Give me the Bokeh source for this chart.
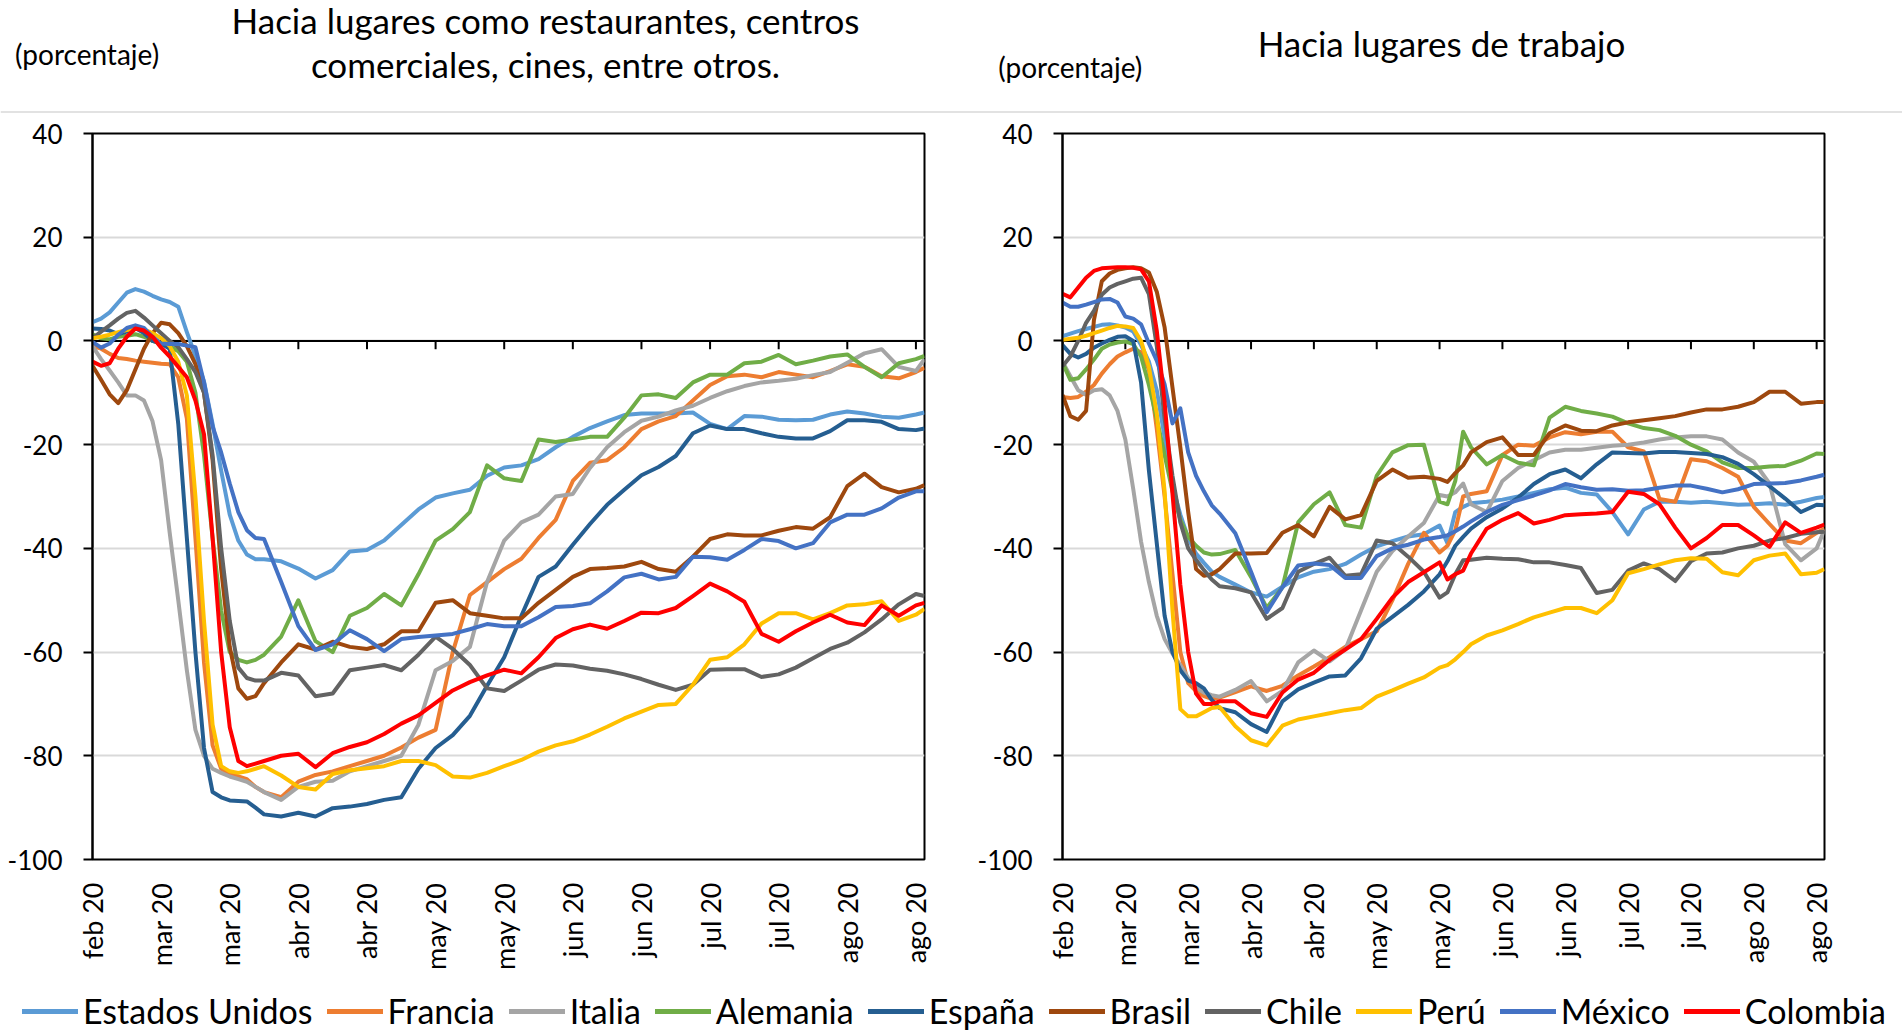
import math
from bokeh.plotting import figure
from bokeh.layouts import column, row
from bokeh.models import Range1d, FixedTicker, Span, Legend, LegendItem
from bokeh.core.properties import value
from bokeh.embed import file_html
from bokeh.resources import INLINE

# ---------------- data ----------------
COUNTRIES = ["Estados Unidos", "Francia", "Italia", "Alemania", "España",
             "Brasil", "Chile", "Perú", "México", "Colombia"]
COLORS = ["#5B9BD5", "#ED7D31", "#A5A5A5", "#70AD47", "#255E91",
          "#9E480E", "#636363", "#FFC000", "#4472C4", "#FF0000"]

TICK_DAYS = [0, 16, 32, 48, 64, 80, 96, 112, 128, 144, 160, 176, 192]
TICK_LABELS = ["feb 20", "mar 20", "mar 20", "abr 20", "abr 20", "may 20", "may 20",
               "jun 20", "jun 20", "jul 20", "jul 20", "ago 20", "ago 20"]
Y_TICKS = [-100, -80, -60, -40, -20, 0, 20, 40]
Y_TICK_LABELS = ["-100", "-80", "-60", "-40", "-20", "0", "20", "40"]

TITLE_LEFT = ["Hacia lugares como restaurantes, centros", "comerciales, cines, entre otros."]
TITLE_RIGHT = "Hacia lugares de trabajo"
UNIT = "(porcentaje)"

# days since 15 feb 2020
DAYS_LEFT = [0, 2, 4, 6, 8, 10, 12, 14, 16, 18, 20, 22, 24, 26, 28, 30, 32, 34, 36, 38, 40,
             44, 48, 52, 56, 60, 64, 68, 72, 76, 80, 84, 88, 92, 96,
             100, 104, 108, 112, 116, 120, 124, 128, 132, 136, 140, 144, 148, 152, 156, 160,
             164, 168, 172, 176, 180, 184, 188, 192, 194]
DAYS_RIGHT = [0, 2, 4, 6, 8, 10, 12, 14, 16, 18, 20, 22, 24, 26, 28, 30, 32, 34, 36, 38, 40,
              44, 48, 52, 56, 60, 64, 68, 72, 76, 80, 84, 88, 92, 96,
              98, 100, 102, 104,
              108, 112, 116, 120, 124, 128, 132, 136, 140, 144, 148, 152, 156, 160,
              164, 168, 172, 176, 180, 184, 188, 192, 194]

# Retail & recreation
RETAIL_US = [3.6, 4.3, 5.5, 7.4, 9.3, 10, 9.5, 8.7, 8, 7.5, 6.6, 1.7, -2.9, -7.8, -16, -25, -33.5, -38.5, -41.2, -42.1, -42.1,
             -42.5, -43.9, -45.8, -44.2, -40.6, -40.3, -38.5, -35.5, -32.5, -30.2, -29.4, -28.7, -26, -24.4,
             -24, -22.8, -20.5, -18.5, -16.8, -15.5, -14.3, -14, -14, -14, -13.8, -16, -17, -14.5, -14.6, -15.2,
             -15.3, -15.2, -14.2, -13.6, -14, -14.6, -14.8, -14.2, -13.8]
RETAIL_FR = [-1, -1.5, -2.5, -3.3, -3.5, -3.8, -4, -4.2, -4.4, -4.5, -7, -15, -38, -62, -78, -82.5, -83.5, -84, -84.5, -86, -87,
             -88, -85, -83.7, -83, -82, -81, -80, -78.4, -76.5, -75, -60, -49, -46.5, -44,
             -42, -38, -34.5, -27, -23.5, -23, -20.5, -17, -15.5, -14.5, -11.5, -8.5, -6.8, -6.5, -7, -6,
             -6.5, -7, -5.8, -4.5, -5, -6.8, -7.2, -6, -5.2]
RETAIL_IT = [-1, -3.5, -5.7, -8, -10.5, -10.5, -11.5, -15.5, -23, -37, -50, -63.5, -75, -80, -82.5, -83.3, -84, -84.5, -85, -86, -87,
             -88.5, -86, -85, -84.8, -83, -82, -81, -80, -74, -63.5, -61.7, -59, -46.5, -38.5,
             -35, -33.5, -30, -29.5, -24.5, -20.5, -17.6, -15.4, -14.6, -13.4, -12.5, -11, -9.7, -8.7, -8, -7.7,
             -7.3, -6.6, -6, -4.2, -2.4, -1.6, -5, -5.8, -3.5]
RETAIL_DE = [1.3, 0.5, 0.3, 0.8, 1, 1.3, 0.8, 0, -0.5, -1, -2, -4, -10, -22, -38, -52, -60, -61.5, -62, -61.5, -60.5,
             -57, -50, -57.9, -60, -53, -51.5, -48.8, -51, -45, -38.5, -36.3, -33, -24, -26.5,
             -27, -19, -19.5, -19, -18.5, -18.5, -14.8, -10.5, -10.3, -11, -8, -6.5, -6.5, -4.3, -4, -2.7,
             -4.5, -3.8, -3, -2.6, -5, -7, -4.3, -3.5, -2.9]
RETAIL_ES = [2.4, 2.3, 2, 1.3, 1.8, 2.5, 1.5, 0, -0.5, -1.5, -16, -38, -60, -78.5, -87, -88, -88.6, -88.7, -88.8, -90, -91.3,
             -91.7, -91, -91.7, -90.1, -89.8, -89.3, -88.5, -88, -82.5, -78.5, -76, -72.3, -66.5, -61,
             -53, -45.5, -43.5, -39.3, -35.3, -31.6, -28.7, -25.9, -24.3, -22.2, -17.8, -16.3, -17, -17, -17.8, -18.5,
             -18.8, -18.8, -17.4, -15.3, -15.3, -15.6, -17, -17.2, -16.9]
RETAIL_BR = [-4.8, -7.5, -10.3, -12, -9.5, -5.5, -1.5, 1.5, 3.5, 3.2, 1.5, -1, -4.5, -10, -23, -44, -59, -67, -69, -68.5, -66,
             -62, -58.5, -59.5, -58, -59, -59.4, -58.5, -56, -56, -50.5, -50, -52.5, -53, -53.5,
             -53.5, -50.5, -48, -45.5, -44, -43.8, -43.5, -42.6, -44, -44.5, -41.6, -38.2, -37.3, -37.5, -37.5, -36.6,
             -35.9, -36.2, -34, -28, -25.6, -28.2, -29.2, -28.5, -27.8]
RETAIL_CL = [0.5, 1.8, 3, 4.3, 5.4, 5.8, 4.5, 3, 1.5, 0, -1.2, -3.5, -6, -10, -22, -40, -54, -63, -65, -65.5, -65.5,
             -64, -64.5, -68.5, -68, -63.5, -63, -62.5, -63.5, -60.5, -57, -59.4, -62.5, -67, -67.5,
             -65.5, -63.4, -62.4, -62.6, -63.2, -63.6, -64.3, -65.2, -66.3, -67.3, -66.3, -63.4, -63.3, -63.3, -64.8, -64.3,
             -63, -61.2, -59.4, -58.2, -56.2, -53.7, -50.8, -48.8, -49.2]
RETAIL_PE = [0.5, 0.8, 1.2, 1.7, 2.1, 2.4, 2.2, 1.5, 0.5, -1, -4, -10.5, -30, -54, -74, -82, -83, -83.3, -83, -82.5, -82,
             -83.8, -86, -86.5, -83.5, -82.8, -82.4, -82, -81, -81, -81.8, -84, -84.2, -83.3, -82,
             -80.8, -79.2, -78, -77.2, -75.9, -74.4, -72.8, -71.5, -70.2, -70, -66.3, -61.5, -61, -58.5, -54.5, -52.5,
             -52.5, -53.7, -52.5, -51, -50.8, -50.2, -54, -52.8, -51.7]
RETAIL_MX = [-0.2, -1.3, -0.5, 1.2, 2.5, 3, 2.5, 0.8, -0.5, -0.6, -0.6, -0.9, -1.2, -8, -16.5, -21.5, -27.5, -33, -36.5, -38, -38.2,
             -46.5, -55, -59.6, -58.5, -55.8, -57.5, -59.8, -57.5, -57.1, -56.8, -56.5, -55.6, -54.6, -55,
             -55, -53.3, -51.3, -51.1, -50.6, -48.3, -45.6, -44.9, -46, -45.5, -41.6, -41.7, -42.2, -40.3, -38.2, -38.6,
             -40, -39, -35, -33.5, -33.5, -32.3, -30.2, -29, -29]
RETAIL_CO = [-4, -4.8, -4.3, -1.5, 0.8, 2.4, 2, 0.8, -1.3, -3, -5, -7, -11.5, -18, -38, -60, -74.5, -81, -82, -81.5, -81,
             -80, -79.6, -82.2, -79.5, -78.3, -77.4, -75.8, -73.8, -72.2, -69.8, -67.4, -65.8, -64.5, -63.4,
             -64.1, -61, -57.3, -55.6, -54.7, -55.5, -54, -52.4, -52.5, -51.5, -49.2, -46.8, -48.3, -50.3, -56.5, -58,
             -56, -54.3, -52.8, -54.3, -54.8, -51, -53, -51, -50.5]

# Workplaces
WORK_US = [0.9, 1.4, 1.9, 2.3, 2.7, 3.1, 3.2, 3, 2.6, 1.8, -0.8, -4, -9.5, -18.6, -28, -33.5, -38, -41, -42.8, -44.5, -45.5,
           -47, -48.5, -49.3, -47.4, -45.6, -44.5, -44, -43, -41.2, -39.6, -38.6, -37.7, -37.3, -35.6,
           -39, -33, -32, -31.3,
           -31, -30.6, -30, -29.3, -28.6, -28.3, -29.3, -29.6, -33, -37.3, -32.5, -31, -31, -31.2,
           -31, -31.3, -31.6, -31.5, -31.3, -31.6, -31, -30.3, -30.1]
WORK_FR = [-10.8, -11, -10.8, -9.8, -8.5, -6.3, -4.5, -3, -2.2, -1.5, -2.2, -5.5, -17, -30, -45, -60, -66, -67.5, -68.5, -69, -68.8,
           -67.7, -66.6, -67.5, -66.5, -64.5, -62.8, -61, -59, -57.5, -56, -50, -43, -37, -40.8,
           -39.5, -36.5, -30, -29.5,
           -29, -22, -20, -20.2, -18.6, -17.6, -18, -17.5, -17.5, -20.5, -21.3, -30.5, -31, -22.8,
           -23.2, -24.5, -26.2, -32, -35.3, -38.5, -39, -37, -36.2]
WORK_IT = [-4, -6.8, -9.5, -10.4, -9.5, -9.3, -10.5, -13.5, -19, -28.5, -38.7, -46.5, -53, -57.5, -60.3, -62.5, -65, -66.8, -67.8, -68.3, -68.6,
           -67.3, -65.6, -69.5, -67.5, -62, -59.7, -61.8, -59.5, -52, -44.5, -40.5, -37.7, -35.1, -29.7,
           -30, -29.2, -27.5, -31.5,
           -33, -27, -24.5, -23, -21.5, -21, -21, -20.6, -20.2, -20, -19.6, -19, -18.6, -18.4,
           -18.4, -19, -21.5, -23.3, -27.5, -39.2, -42.3, -40, -36.4]
WORK_DE = [-4.2, -7.5, -7.2, -5.5, -3.6, -1.5, -0.7, -0.3, -0.1, -0.6, -3, -8.5, -15, -22, -29, -34.5, -37.8, -39.5, -40.8, -41.2, -41.1,
           -40.3, -45.5, -51.5, -47.5, -35, -31.5, -29.2, -35.5, -36, -26, -21.5, -20.1, -20, -31,
           -31.5, -27, -17.5, -20.5,
           -23.8, -22, -23.5, -24, -14.8, -12.7, -13.5, -14, -14.6, -15.9, -16.8, -17.2, -18.3, -20,
           -21.3, -23.4, -24.5, -24.5, -24.2, -24.1, -23.1, -21.7, -21.8]
WORK_ES = [-0.8, -2.5, -3.2, -2.5, -1.3, -0.5, 0.2, 0.8, 0.9, 0, -8, -25, -39, -53, -60, -63.5, -65.5, -66, -67, -69.2, -70.8,
           -71.6, -73.9, -75.4, -69.5, -67.2, -65.9, -64.7, -64.5, -61.2, -55.5, -53.2, -50.9, -48.3, -45,
           -42.5, -39.5, -37.8, -36.2,
           -34, -32.3, -30.2, -27.6, -25.7, -24.8, -26.5, -23.8, -21.5, -21.6, -21.7, -21.4, -21.4, -21.6,
           -21.8, -22.4, -23.7, -25.7, -28, -30.4, -33, -31.6, -31.7]
WORK_BR = [-10.4, -14.5, -15.2, -13.5, 4, 11.5, 13, 13.7, 14, 14.2, 14, 13.2, 9.5, 2.6, -9, -20.5, -33, -44, -45.3, -45, -44,
           -41, -41, -40.9, -37, -35.5, -37.7, -32, -34.4, -33.6, -27, -24.8, -26.4, -26.2, -26.6,
           -27.2, -25.5, -24, -21.5,
           -19.5, -18.6, -22, -22, -17.8, -16.3, -17.3, -17.4, -16.3, -15.7, -15.3, -14.9, -14.5, -13.8,
           -13.2, -13.2, -12.7, -11.8, -9.8, -9.8, -12.1, -11.8, -11.8]
WORK_CL = [-4.9, -3, 0, 3.5, 5.8, 8.9, 10.3, 11, 11.5, 12, 12.2, 9, -1, -15, -26, -35, -40, -42.2, -44.2, -46, -47.3,
           -47.7, -48.5, -53.6, -51.5, -44.5, -43, -41.8, -45.3, -45, -38.5, -39, -41.6, -44.5, -49.5,
           -48.5, -45, -42.3, -42.2,
           -41.8, -42, -42.1, -42.7, -42.7, -43.2, -43.8, -48.6, -48, -44.3, -42.9, -44, -46.3, -42.5,
           -41, -40.8, -40, -39.5, -38.5, -38, -37.2, -36.9, -36.8]
WORK_PE = [0.2, 0.4, 0.6, 1, 1.5, 2, 2.5, 2.9, 2.8, 2.5, 0, -5, -14, -29, -52, -71, -72.4, -72.4, -71.6, -70.8, -70.6,
           -74.3, -77, -78, -74.2, -73, -72.4, -71.8, -71.2, -70.8, -68.6, -67.4, -66.1, -64.9, -63,
           -62.5, -61.4, -60, -58.5,
           -56.8, -55.8, -54.6, -53.3, -52.4, -51.5, -51.5, -52.5, -50, -44.8, -44, -43.1, -42.3, -41.9,
           -42, -44.6, -45.2, -42.3, -41.4, -41, -45, -44.7, -44]
WORK_MX = [7.4, 6.6, 6.6, 7, 7.5, 8, 8.1, 7.4, 4.7, 4.3, 3.2, -0.5, -3.8, -8.4, -15.9, -13, -21.5, -26, -29, -31.7, -33.3,
           -37.1, -44.5, -52.3, -47.5, -43.3, -42.9, -43.2, -45.7, -45.7, -41.5, -40, -39.3, -38.3, -37.8,
           -37.5, -36.7, -35.8, -34.8,
           -33, -31.6, -30.7, -29.8, -28.8, -27.6, -28.2, -28.7, -28.6, -28.9, -28.8, -28.3, -27.9, -27.9,
           -28.5, -29.2, -28.6, -27.6, -27.5, -27.4, -26.9, -26.2, -25.8]
WORK_CO = [9.1, 8.4, 10.3, 12.2, 13.5, 14, 14.1, 14.2, 14.2, 14.1, 13.8, 11.5, 2, -11.8, -29.5, -47, -60, -68, -70, -70, -69.5,
           -69.5, -71.8, -72.5, -67.8, -65.3, -64, -61.5, -59.5, -57.5, -53.6, -49.5, -46.5, -44.6, -42.7,
           -46, -45, -44.3, -41,
           -36.2, -34.5, -33.2, -35.2, -34.5, -33.6, -33.4, -33.3, -33, -29.1, -29.5, -31.5, -36, -40,
           -38, -35.5, -35.5, -37.5, -39.7, -35, -37, -36, -35.4]

RETAIL = [RETAIL_US, RETAIL_FR, RETAIL_IT, RETAIL_DE, RETAIL_ES, RETAIL_BR, RETAIL_CL, RETAIL_PE, RETAIL_MX, RETAIL_CO]
WORK = [WORK_US, WORK_FR, WORK_IT, WORK_DE, WORK_ES, WORK_BR, WORK_CL, WORK_PE, WORK_MX, WORK_CO]
for nm, s in zip(COUNTRIES, RETAIL):
    assert len(s) == len(DAYS_LEFT), ("retail", nm, len(s))
for nm, s in zip(COUNTRIES, WORK):
    assert len(s) == len(DAYS_RIGHT), ("work", nm, len(s))

# ---------------- styling ----------------
FONT = "Lato"
GRID = "#D9D9D9"
ZERO_TICK_LEN = 1.6  # small ticks on the zero line, in data units
LINE_W = 4


def make_chart(days, series, width, height, mbl, mbr, mbt, mbb):
    p = figure(width=width, height=height, x_range=Range1d(0, 194), y_range=Range1d(-100, 40),
               output_backend="svg", toolbar_location=None, title=None,
               min_border_left=mbl, min_border_right=mbr, min_border_top=mbt, min_border_bottom=mbb)
    p.background_fill_color = "white"
    p.border_fill_color = "white"
    p.outline_line_color = "black"
    p.outline_line_width = 2
    p.xgrid.visible = False
    p.ygrid.ticker = FixedTicker(ticks=Y_TICKS)
    p.ygrid.grid_line_color = GRID
    p.ygrid.grid_line_width = 2

    ya = p.yaxis[0]
    ya.ticker = FixedTicker(ticks=Y_TICKS)
    ya.major_label_overrides = {t: lab for t, lab in zip(Y_TICKS, Y_TICK_LABELS)}
    ya.axis_line_color = "black"
    ya.axis_line_width = 2
    ya.major_tick_out = 9
    ya.major_tick_in = 0
    ya.major_tick_line_color = "black"
    ya.major_tick_line_width = 2
    ya.minor_tick_line_color = None
    ya.major_label_standoff = 21
    ya.major_label_text_font = FONT
    ya.major_label_text_font_size = "26px"
    ya.major_label_text_color = "black"

    xa = p.xaxis[0]
    xa.ticker = FixedTicker(ticks=TICK_DAYS)
    xa.major_label_overrides = {d: lab for d, lab in zip(TICK_DAYS, TICK_LABELS)}
    xa.major_label_orientation = math.pi / 2
    xa.axis_line_color = None
    xa.major_tick_line_color = None
    xa.minor_tick_line_color = None
    xa.major_label_standoff = 17
    xa.major_label_text_font = FONT
    xa.major_label_text_font_size = "27px"
    xa.major_label_text_color = "black"

    p.add_layout(Span(location=0, dimension="width", line_color="black", line_width=2, level="underlay"))
    p.segment(x0=TICK_DAYS, y0=[0] * len(TICK_DAYS), x1=TICK_DAYS,
              y1=[-ZERO_TICK_LEN] * len(TICK_DAYS), line_color="black", line_width=2)

    for color, vals in zip(COLORS, series):
        p.line(days, vals, line_color=color, line_width=LINE_W, line_join="round")
    return p


# page layout (the Bokeh page has no body margin): header 0-114, charts 114-976, legend 976-1031
p_left = make_chart(DAYS_LEFT, RETAIL, 970, 862, 92, 46, 19, 111)
p_right = make_chart(DAYS_RIGHT, WORK, 932, 862, 92, 78, 17, 117)

# ---------------- header ----------------
ph = figure(width=1902, height=114, x_range=Range1d(0, 1902), y_range=Range1d(0, 114),
            output_backend="svg", toolbar_location=None, title=None, min_border=0,
            x_axis_location=None, y_axis_location=None)
ph.grid.visible = False
ph.outline_line_color = None
ph.background_fill_color = "white"
ph.border_fill_color = "white"
ph.text(x=[545, 545, 1441], y=[95, 51, 71.1], text=[TITLE_LEFT[0], TITLE_LEFT[1], TITLE_RIGHT],
        text_font=value(FONT), text_font_size="35px", text_align="center",
        text_baseline="alphabetic", text_color="black")
ph.text(x=[14.6, 997.7], y=[60.6, 47.3], text=[UNIT, UNIT],
        text_font=value(FONT), text_font_size="28px", text_align="left",
        text_baseline="alphabetic", text_color="black")
ph.add_layout(Span(location=2.5, dimension="width", line_color=GRID, line_width=1.5))

# ---------------- legend ----------------
# the legend's sample lines reuse the series, drawn outside this strip's visible range
pl = figure(width=1902, height=55, x_range=Range1d(-30, -20), y_range=Range1d(0, 1),
            output_backend="svg", toolbar_location=None, title=None, min_border=0,
            x_axis_location=None, y_axis_location=None)
pl.grid.visible = False
pl.outline_line_color = None
pl.background_fill_color = "white"
pl.border_fill_color = "white"
items = []
for name, color, vals in zip(COUNTRIES, COLORS, RETAIL):
    r = pl.line(DAYS_LEFT, vals, line_color=color, line_width=5, line_cap="round")
    items.append(LegendItem(label=name, renderers=[r]))
leg = Legend(items=items, orientation="horizontal", location=(22, 0),
             label_text_font=FONT, label_text_font_size="34px", label_text_color="black",
             glyph_width=56, glyph_height=20, label_standoff=5, spacing=14,
             padding=0, margin=0, border_line_color=None, background_fill_alpha=0)
pl.add_layout(leg, "center")

layout = column(ph, row(p_left, p_right), pl)

open("out.html", "w").write(file_html(layout, INLINE, title="Movilidad"))
